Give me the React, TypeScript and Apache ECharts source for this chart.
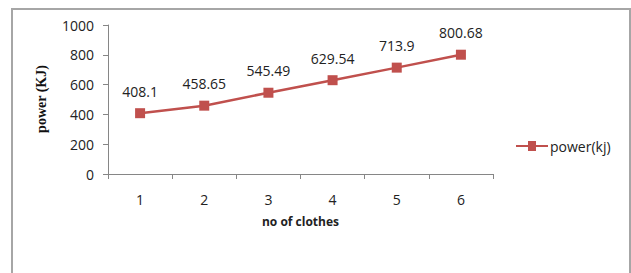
import React, { useEffect, useRef } from "react";
import * as echarts from "echarts";

const categories = ["1", "2", "3", "4", "5", "6"];
const powerValues = [408.1, 458.65, 545.49, 629.54, 713.9, 800.68];
const seriesName = "power(kj)";
const xTitle = "no of clothes";
const yTitle = "power (KJ)";

export default function App() {
  const ref = useRef<HTMLDivElement>(null);
  useEffect(() => {
    const chart = echarts.init(ref.current!, undefined, { renderer: "svg" });
    const axisGray = "#868686";
    const font = "'Open Sans', sans-serif";
    chart.setOption({
      animation: false,
      backgroundColor: "#ffffff",
      graphic: [
        {
          type: "polyline",
          shape: { points: [[12, 280], [12, 9], [630, 9], [630, 280]] },
          style: { stroke: "#a6a6a6", lineWidth: 2, fill: "none" },
          silent: true,
        },
        {
          type: "text",
          rotation: Math.PI / 2,
          x: 41,
          y: 99,
          style: {
            text: yTitle,
            font: "bold 14px 'Liberation Serif', 'DejaVu Serif', serif",
            fill: "#111",
            align: "center",
            verticalAlign: "middle",
          },
        },
      ],
      legend: {
        data: [seriesName],
        left: 511,
        top: 134,
        itemWidth: 32,
        itemHeight: 10,
        itemGap: 2,
        textStyle: { fontFamily: font, fontSize: 14, color: "#222", padding: [0, 0, 0, -3] },
        icon: "path://M0,4L12,4L12,0L20,0L20,4L32,4L32,6L20,6L20,10L12,10L12,6L0,6Z",
      },
      grid: { left: 108, top: 25, right: 138, bottom: 99, containLabel: false },
      xAxis: {
        type: "category",
        data: categories,
        boundaryGap: true,
        name: xTitle,
        nameLocation: "middle",
        nameGap: 41,
        nameTextStyle: { fontFamily: font, fontWeight: "bold", fontSize: 12, color: "#222" },
        axisLine: { lineStyle: { color: axisGray, width: 1 } },
        axisTick: { show: true, length: 5, alignWithLabel: false, lineStyle: { color: axisGray } },
        axisLabel: { margin: 18, fontFamily: font, fontSize: 14, color: "#222" },
        splitLine: { show: false },
      },
      yAxis: {
        type: "value",
        min: 0,
        max: 1000,
        interval: 200,
        axisLine: { show: true, lineStyle: { color: axisGray, width: 1 } },
        axisTick: { show: true, length: 5, inside: false, lineStyle: { color: axisGray } },
        axisLabel: { margin: 14, fontFamily: font, fontSize: 14, color: "#222", formatter: (v: number) => String(v) },
        splitLine: { show: false },
      },
      series: [
        {
          name: seriesName,
          type: "line",
          data: powerValues,
          symbol: "rect",
          symbolSize: 10,
          itemStyle: { color: "#C0504D" },
          lineStyle: { color: "#C0504D", width: 2.5 },
          label: {
            show: true,
            position: "top",
            distance: 10,
            fontFamily: font,
            fontSize: 14,
            color: "#222",
          },
        },
      ],
    });
    return () => chart.dispose();
  }, []);
  return <div ref={ref} style={{ width: 631, height: 273, position: "absolute", left: 0, top: 0 }} />;
}
